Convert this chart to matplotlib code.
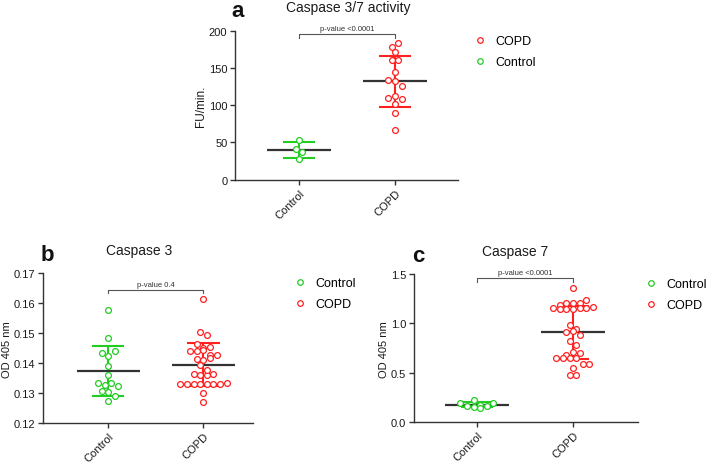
import numpy as np
import matplotlib.pyplot as plt
from matplotlib.lines import Line2D

plt.rcParams['font.family'] = ['Liberation Sans', 'DejaVu Sans']

W, H = 709, 464
RED = '#ff2020'
GREEN = '#22cc22'
DARK = '#333333'

groups = ['Control', 'COPD']

# a: caspase 3/7 activity (FU/min.)
a_control = [53.7, 40.7, 37.6, 28.0]
a_copd = [178.5, 183.4, 171.0, 160.6, 160.6, 145.0, 133.8, 133.0, 126.0,
          110.0, 112.7, 108.0, 101.6, 89.5, 66.6]

# b: caspase 3 (OD 405 nm)
b_control = [0.1579, 0.1484, 0.1434, 0.1425, 0.1439, 0.1389, 0.1360,
             0.1334, 0.1328, 0.1334, 0.1325, 0.1308, 0.1305, 0.1289, 0.1275]
b_copd = [0.1613, 0.1505, 0.1494, 0.1464,
          0.1450, 0.1439, 0.1455, 0.1439, 0.1444,
          0.1414, 0.1428, 0.1410, 0.1428, 0.1416,
          0.1395,
          0.1364, 0.1360, 0.1360, 0.1364, 0.1378,
          0.1330, 0.1330, 0.1330, 0.1330, 0.1330, 0.1330, 0.1330, 0.1334,
          0.1300, 0.1271]

# c: caspase 7 (OD 405 nm)
c_control = [0.198, 0.168, 0.225, 0.175, 0.168, 0.198, 0.155, 0.142]
c_copd = [1.358, 1.186, 1.210, 1.203, 1.203, 1.237,
          1.153, 1.150, 1.146, 1.150, 1.159, 1.159, 1.169,
          0.987, 0.945, 0.915, 0.926, 0.880, 0.825, 0.780,
          0.684, 0.708, 0.701, 0.647, 0.647, 0.647, 0.647,
          0.590, 0.590, 0.549, 0.481, 0.481]

fig = plt.figure(figsize=(W / 100, H / 100), dpi=100)


def px_axes(l, t, r, b):
    return fig.add_axes([l / W, 1 - b / H, (r - l) / W, (b - t) / H])


def swarm(vals, px_y, px_x, d=6.6):
    # GraphPad-like: bin close values into rows, spread each row symmetrically
    vals = np.asarray(vals, dtype=float)
    order = np.argsort(-vals, kind='stable')
    rows, cur, start = [], [order[0]], vals[order[0]]
    for i in order[1:]:
        if (start - vals[i]) * px_y < 0.9 * d:
            cur.append(i)
        else:
            rows.append(cur)
            cur, start = [i], vals[i]
    rows.append(cur)
    offs = np.zeros(len(vals))
    for r in rows:
        r = sorted(r)
        for k, i in enumerate(r):
            offs[i] = (k - (len(r) - 1) / 2) * d / px_x
    return offs


def panel(box, data, colors, ylim, yticks, fmt, ylabel, xlim, title, title_x,
          letter, letter_xy, pval, bracket, legend_order, legend_xy, ylab_size):
    ax = px_axes(*box)
    l, t, r, b = box
    px_y = (b - t) / (ylim[1] - ylim[0])
    px_x = (r - l) / (xlim[1] - xlim[0])
    for x, (vals, col) in enumerate(zip(data, colors)):
        vals = np.asarray(vals)
        m, sd = vals.mean(), vals.std(ddof=1)
        ax.vlines(x, m - sd, m + sd, colors=col, lw=1.5, zorder=2)
        ax.hlines([m - sd, m + sd], x - 0.17, x + 0.17, colors=col, lw=1.5, zorder=2)
        ax.hlines(m, x - 0.33, x + 0.33, colors=DARK, lw=1.6, zorder=3)
        xs = x + swarm(vals, px_y, px_x)
        ax.plot(xs, vals, 'o', ms=4.2, mfc='white', mec=col, mew=0.9,
                ls='none', zorder=4, clip_on=False)

    ax.set_xlim(xlim)
    ax.set_ylim(ylim)
    ax.set_yticks(yticks)
    ax.set_yticklabels([fmt.format(v) for v in yticks], fontsize=8, color='#1a1a1a')
    ax.set_xticks([0, 1])
    ax.set_xticklabels(groups, rotation=45, ha='right', rotation_mode='anchor',
                       fontsize=8, color='#1a1a1a')
    ax.set_ylabel(ylabel, fontsize=ylab_size, labelpad=1.5, color='#1a1a1a')
    for s in ['top', 'right']:
        ax.spines[s].set_visible(False)
    for s in ['left', 'bottom']:
        ax.spines[s].set_color(DARK)
        ax.spines[s].set_linewidth(1.0)
    ax.tick_params(length=3.5, width=1.0, color=DARK, pad=2)

    # significance bracket
    y1, y2 = bracket
    ax.plot([0, 0, 1, 1], [y1, y2, y2, y1], color='#555555', lw=0.8, clip_on=False)
    ax.text(0.5, y2 + (ylim[1] - ylim[0]) * 0.012, pval, ha='center', va='bottom',
            fontsize=5.5, color='#333333')

    ax.set_title(title, fontsize=10, x=title_x, pad=14, color='#1a1a1a')
    fig.text(letter_xy[0] / W, 1 - letter_xy[1] / H, letter, fontsize=16,
             fontweight='bold', ha='center', va='baseline', color='#111111')

    handles = [Line2D([], [], marker='o', ls='none', ms=4.0, mfc='white',
                      mec=colors[groups.index(g)], mew=0.9) for g in legend_order]
    ax.legend(handles, legend_order, loc='upper left',
              bbox_to_anchor=(legend_xy[0] / W, 1 - legend_xy[1] / H),
              bbox_transform=fig.transFigure, frameon=False, fontsize=9,
              borderpad=0, handlelength=1.0, handletextpad=0.7, labelspacing=0.75,
              borderaxespad=0)
    return ax


panel((235, 31.7, 458, 180.7), [a_control, a_copd], [GREEN, RED],
      (0, 200), [0, 50, 100, 150, 200], '{:.0f}', 'FU/min.', (-0.667, 1.656),
      'Caspase 3/7 activity', 0.507, 'a', (238, 17), 'p-value <0.0001',
      (189.7, 195.5), ['COPD', 'Control'], (474, 36), 8.5)

panel((43, 274.3, 253, 424), [b_control, b_copd], [GREEN, RED],
      (0.12, 0.17), [0.12, 0.13, 0.14, 0.15, 0.16, 0.17], '{:.2f}', 'OD 405 nm',
      (-0.684, 1.52), 'Caspase 3', 0.46, 'b', (47, 261), 'p-value 0.4',
      (0.1633, 0.1645), ['Control', 'COPD'], (294, 278), 8)

panel((414, 275, 638, 423.3), [c_control, c_copd], [GREEN, RED],
      (0, 1.5), [0.0, 0.5, 1.0, 1.5], '{:.1f}', 'OD 405 nm',
      (-0.656, 1.677), 'Caspase 7', 0.453, 'c', (418, 262), 'p-value <0.0001',
      (1.422, 1.459), ['Control', 'COPD'], (645, 279), 8)

fig.savefig('out.png', dpi=100)
